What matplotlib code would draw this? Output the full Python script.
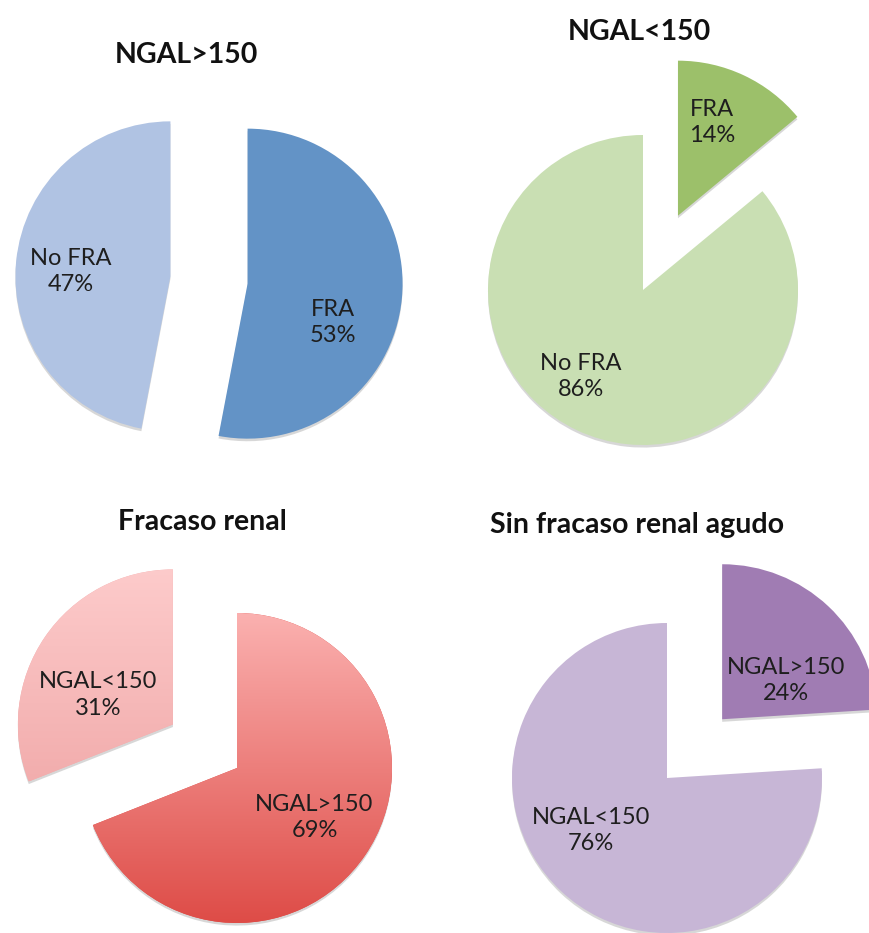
"""
Distribución de FRA según NGAL (gráficos de sectores)
"""
import numpy as np
import matplotlib.pyplot as plt
from matplotlib.colors import LinearSegmentedColormap

plt.rcParams['font.family'] = ['Lato', 'DejaVu Sans']

# Datos de cada gráfico
titulos = ["NGAL>150", "NGAL<150", "Fracaso renal", "Sin fracaso renal agudo"]

ngal_alto_labels = ["FRA", "No FRA"]
ngal_alto_pct = [53, 47]

ngal_bajo_labels = ["FRA", "No FRA"]
ngal_bajo_pct = [14, 86]

fra_labels = ["NGAL>150", "NGAL<150"]
fra_pct = [69, 31]

no_fra_labels = ["NGAL>150", "NGAL<150"]
no_fra_pct = [24, 76]

W, H = 869, 933      # tamaño de la figura en px
R = 155              # radio del sector en px
S = 235              # semi-lado de cada eje en px


def pie_chart(fig, cx, cy, titulo, tpos, labels, pct, colores, explode, offsets):
    """Dibuja un sector centrado en (cx, cy) px; colores = [(arriba, abajo), ...]"""
    ax = fig.add_axes([(cx - S) / W, (H - cy - S) / H, 2 * S / W, 2 * S / H])
    lim = S / R
    wedges, _ = ax.pie(pct, startangle=90, counterclock=False, explode=explode,
                       colors=[c[1] for c in colores], radius=1,
                       wedgeprops=dict(linewidth=0),
                       shadow=dict(ox=0.0, oy=-0.012, facecolor='#a8a8a8',
                                   edgecolor='none', alpha=0.45))
    # degradado vertical dentro de cada porción
    for w, (c_top, c_bot) in zip(wedges, colores):
        if c_top == c_bot:
            continue
        x0, y0, x1, y1 = w.get_path().get_extents().extents
        cmap = LinearSegmentedColormap.from_list('g', [c_bot, c_top])
        grad = np.linspace(0, 1, 256).reshape(-1, 1)
        im = ax.imshow(grad, cmap=cmap, origin='lower', aspect='auto',
                       extent=[x0, x1, y0, y1], zorder=w.get_zorder() + 0.1)
        im.set_clip_path(w)

    for w, lab, p, (dx, dy) in zip(wedges, labels, pct, offsets):
        x, y = w.center
        ax.text(x + dx, y + dy, f"{lab}\n{p}%", ha='center', va='center',
                fontsize=17, color='#1e1e1e', linespacing=1.3, zorder=5)

    ax.text((tpos[0] - cx) / R, (cy - tpos[1]) / R, titulo, ha='center', va='center',
            fontsize=20.5, fontweight='bold', color='#111111')
    ax.set_xlim(-lim, lim)
    ax.set_ylim(-lim, lim)
    ax.axis('off')
    return ax


fig = plt.figure(figsize=(W / 100, H / 100), dpi=100)

pie_chart(fig, 209, 280, titulos[0], (186, 55), ngal_alto_labels, ngal_alto_pct,
          [('#6393c6', '#6393c6'), ('#b0c3e3', '#b0c3e3')], [0.25, 0.25],
          [(0.55, -0.25), (-0.64, 0.03)])

pie_chart(fig, 643, 290, titulos[1], (639, 32), ngal_bajo_labels, ngal_bajo_pct,
          [('#9cc06a', '#9cc06a'), ('#c9dfb3', '#c9dfb3')], [0.53, 0],
          [(0.22, 0.60), (-0.40, -0.56)])

pie_chart(fig, 237, 768, titulos[2], (202, 522), fra_labels, fra_pct,
          [('#fbb1b0', '#de4c47'), ('#fdcbcb', '#f2adad')], [0, 0.5],
          [(0.50, -0.32), (-0.48, 0.19)])

pie_chart(fig, 667, 778, titulos[3], (637, 525), no_fra_labels, no_fra_pct,
          [('#a07cb3', '#a07cb3'), ('#c7b6d6', '#c7b6d6')], [0.52, 0],
          [(0.41, 0.25), (-0.49, -0.34)])

fig.savefig('out.png', dpi=100)
